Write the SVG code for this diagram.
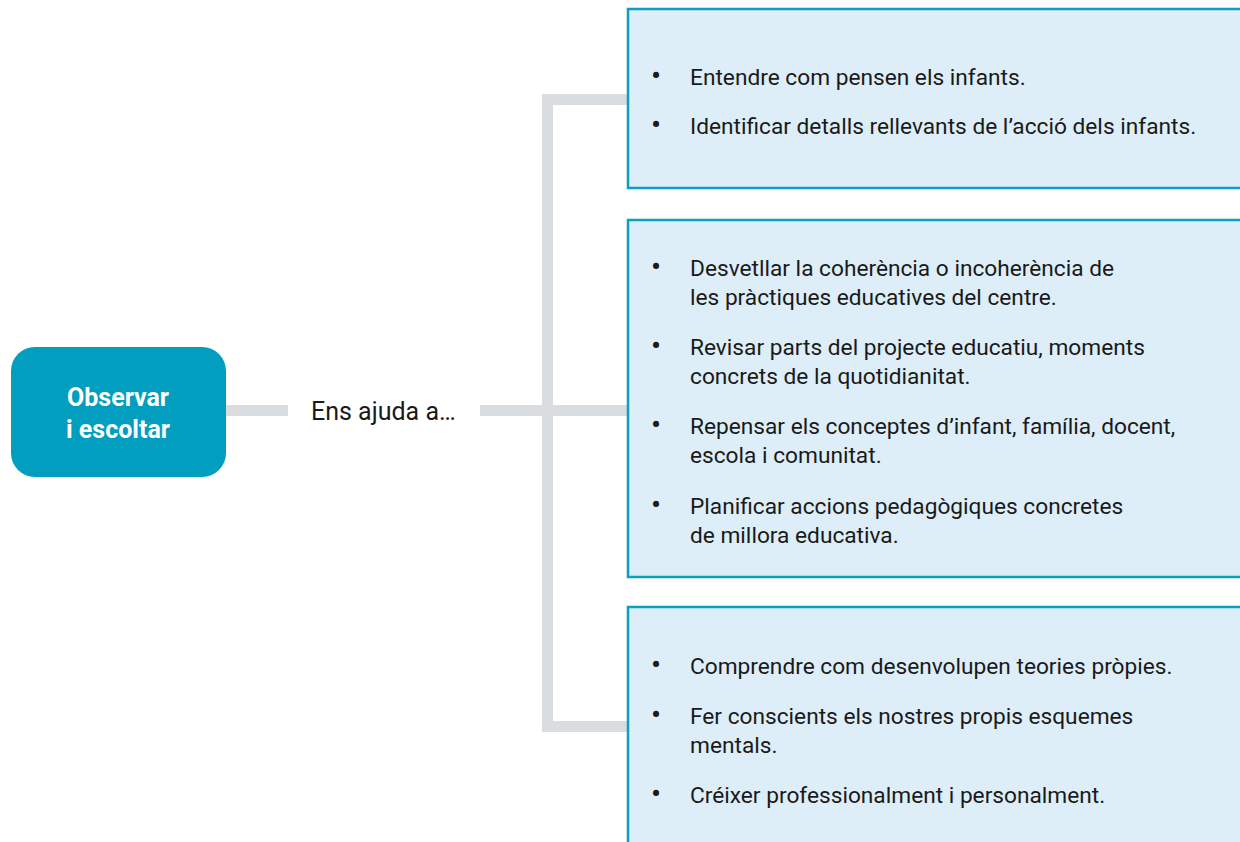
<svg xmlns="http://www.w3.org/2000/svg" width="1240" height="842" viewBox="0 0 1240 842">
<style>
.box{fill:#ddeef8;stroke:#0aa0bf;stroke-width:2.5}
.t{font-family:Roboto,"Liberation Sans",sans-serif;font-size:22.7px;fill:#1a1a1a}
.b{font-family:Roboto,"Liberation Sans",sans-serif;font-size:30px;fill:#1a1a1a}
.c{fill:none;stroke:#dadde0;stroke-width:11}
.n{font-family:Roboto,"Liberation Sans",sans-serif;font-size:25px;font-weight:bold;fill:#ffffff;text-anchor:middle}
</style>
<rect width="1240" height="842" fill="#ffffff"/>
<g id="connectors">
<path class="c" d="M226 410.5H288"/>
<path class="c" d="M480 410.5H628"/>
<path class="c" d="M628 99.5H547.5V726.5H628"/>
</g>
<g id="node-observar">
<rect x="11" y="347" width="215" height="130" rx="24" fill="#019ebf"/>
<text class="n" x="118" y="406">Observar</text>
<text class="n" x="118" y="438">i escoltar</text>
</g>
<g id="label-ens">
<text class="t" x="311" y="420" style="font-size:25px">Ens ajuda a…</text>
</g>
<g id="box1">
<rect class="box" x="628" y="9" width="640" height="179"/>
<text class="b" x="651" y="86">•</text><text class="t" x="690" y="85">Entendre com pensen els infants.</text>
<text class="b" x="651" y="135">•</text><text class="t" x="690" y="134">Identificar detalls rellevants de l’acció dels infants.</text>
</g>
<g id="box2">
<rect class="box" x="628" y="220" width="640" height="357"/>
<text class="b" x="651" y="277">•</text><text class="t" x="690" y="276">Desvetllar la coherència o incoherència de</text>
<text class="t" x="690" y="305">les pràctiques educatives del centre.</text>
<text class="b" x="651" y="356">•</text><text class="t" x="690" y="355">Revisar parts del projecte educatiu, moments</text>
<text class="t" x="690" y="384">concrets de la quotidianitat.</text>
<text class="b" x="651" y="435">•</text><text class="t" x="690" y="434">Repensar els conceptes d’infant, família, docent,</text>
<text class="t" x="690" y="463">escola i comunitat.</text>
<text class="b" x="651" y="515">•</text><text class="t" x="690" y="514">Planificar accions pedagògiques concretes</text>
<text class="t" x="690" y="543">de millora educativa.</text>
</g>
<g id="box3">
<rect class="box" x="628" y="607" width="640" height="260"/>
<text class="b" x="651" y="675">•</text><text class="t" x="690" y="674">Comprendre com desenvolupen teories pròpies.</text>
<text class="b" x="651" y="725">•</text><text class="t" x="690" y="724">Fer conscients els nostres propis esquemes</text>
<text class="t" x="690" y="753">mentals.</text>
<text class="b" x="651" y="804">•</text><text class="t" x="690" y="803">Créixer professionalment i personalment.</text>
</g>
</svg>
